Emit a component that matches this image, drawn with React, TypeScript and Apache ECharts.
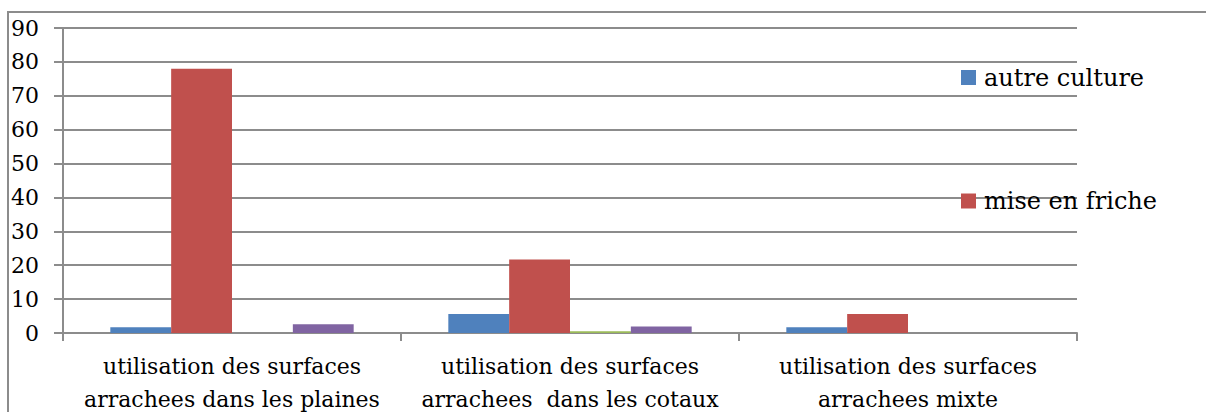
import React, { useEffect, useRef } from "react";
import * as echarts from "echarts";

const categories = [
  "utilisation des surfaces\narrachees dans les plaines",
  "utilisation des surfaces\narrachees  dans les cotaux",
  "utilisation des surfaces\narrachees mixte",
];
const seriesNames = ["autre culture", "mise en friche", "série 3", "série 4"];
const autreCulture = [1.7, 5.6, 1.7];
const miseEnFriche = [78, 21.7, 5.6];
const serie3 = [0, 0.5, 0];
const serie4 = [2.6, 1.9, 0];
const colors = ["#4F81BD", "#C0504D", "#9BBB59", "#8064A2"];
const yTicks = { min: 0, max: 90, interval: 10 };

const FONT = "DejaVu Serif";
const GRAY = "#8c8c8c";

export default function App() {
  const ref = useRef<HTMLDivElement>(null);
  useEffect(() => {
    if (!ref.current) return;
    const chart = echarts.init(ref.current, undefined, { renderer: "svg" });
    const values = [autreCulture, miseEnFriche, serie3, serie4];
    const legendCommon = {
      orient: "vertical" as const,
      left: 961,
      padding: 0,
      itemWidth: 15,
      itemHeight: 15,
      icon: "rect",
      textStyle: {
        fontFamily: FONT,
        fontSize: 24,
        color: "#000",
        lineHeight: 30,
        padding: [0, 0, 0, 3],
      },
    };
    chart.setOption({
      animation: false,
      color: colors,
      textStyle: { fontFamily: FONT },
      graphic: [
        {
          type: "rect",
          shape: { x: 8, y: 12, width: 1400, height: 600 },
          style: { fill: "none", stroke: GRAY, lineWidth: 2 },
          silent: true,
          z: -1,
        },
      ],
      legend: [
        { ...legendCommon, top: 62.5, data: [seriesNames[0]] },
        { ...legendCommon, top: 186, data: [seriesNames[1]] },
      ],
      grid: {
        left: 63,
        right: 129,
        top: 28,
        bottom: 79,
        containLabel: false,
        outerBoundsMode: "none",
      },
      xAxis: {
        type: "category",
        data: categories,
        axisLine: { show: true, lineStyle: { color: GRAY, width: 2 } },
        axisTick: { show: true, length: 8, alignWithLabel: false, lineStyle: { color: GRAY, width: 2 } },
        axisLabel: {
          interval: 0,
          fontFamily: FONT,
          fontSize: 22,
          lineHeight: 33,
          color: "#000",
          margin: 17,
        },
      },
      yAxis: {
        type: "value",
        min: yTicks.min,
        max: yTicks.max,
        interval: yTicks.interval,
        axisLine: { show: true, lineStyle: { color: GRAY, width: 2 } },
        axisTick: { show: true, length: 9, lineStyle: { color: GRAY, width: 2 } },
        splitLine: { show: true, lineStyle: { color: GRAY, width: 2 } },
        axisLabel: {
          fontFamily: FONT,
          fontSize: 22,
          color: "#000",
          margin: 24,
        },
      },
      series: seriesNames.map((name, i) => ({
        name,
        type: "bar",
        data: values[i],
        barGap: "0%",
        barCategoryGap: "28%",
        itemStyle: { color: colors[i] },
      })),
    });
    return () => chart.dispose();
  }, []);
  return (
    <div
      ref={ref}
      style={{ position: "absolute", left: 0, top: 0, width: 1206, height: 412, background: "#fff" }}
    />
  );
}
